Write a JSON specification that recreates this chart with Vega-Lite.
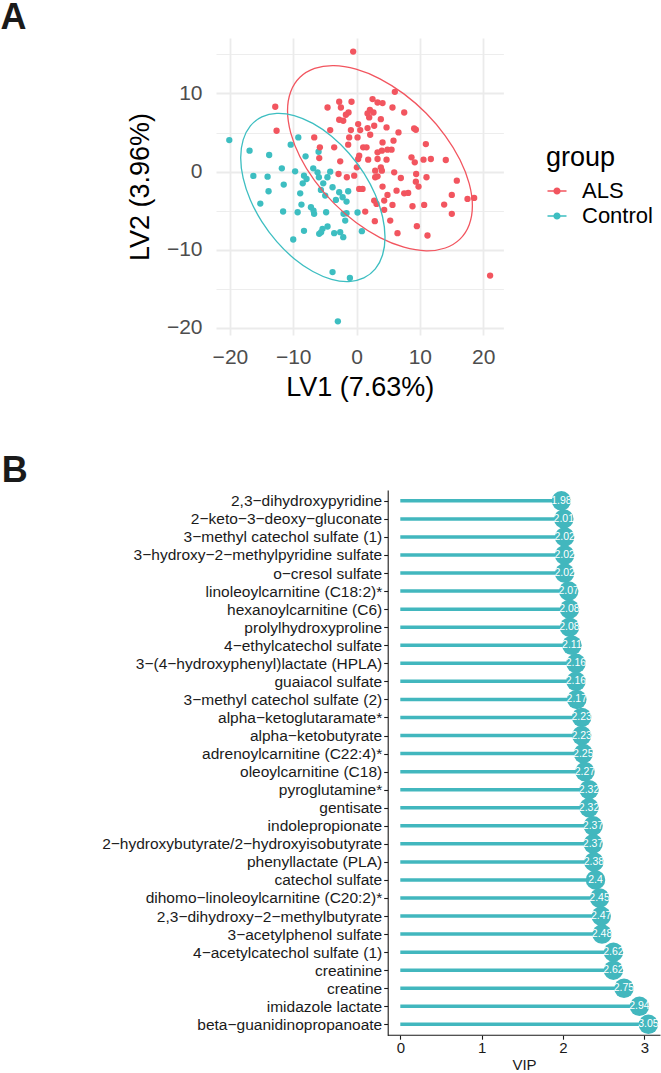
{
  "$schema": "https://vega.github.io/schema/vega-lite/v6.json",
  "background": "white",
  "padding": 0,
  "config": {"view": {"stroke": null}, "font": "Liberation Sans", "axis": {"titleFontWeight": "normal"}},
  "columns": 1,
  "align": "none",
  "spacing": 52,
  "resolve": {"scale": {"x": "independent", "y": "independent", "color": "independent"}, "legend": {"color": "independent"}, "axis": {"x": "independent", "y": "independent"}},
  "datasets": {
    "pts": [
      {"group": "Control", "LV1": -20.1, "LV2": 4.04},
      {"group": "Control", "LV1": -16.9, "LV2": 2.68},
      {"group": "Control", "LV1": -13.8, "LV2": 2.13},
      {"group": "Control", "LV1": -16.3, "LV2": -0.55},
      {"group": "Control", "LV1": -14.05, "LV2": -0.64},
      {"group": "Control", "LV1": -13.9, "LV2": -2.51},
      {"group": "Control", "LV1": -15.2, "LV2": -4.09},
      {"group": "Control", "LV1": -11.8, "LV2": 0.43},
      {"group": "Control", "LV1": -11.5, "LV2": -1.66},
      {"group": "Control", "LV1": -11.6, "LV2": -5.1},
      {"group": "Control", "LV1": -10.4, "LV2": 3.45},
      {"group": "Control", "LV1": -9.2, "LV2": 4.38},
      {"group": "Control", "LV1": -9.7, "LV2": 0.04},
      {"group": "Control", "LV1": -8.05, "LV2": 1.96},
      {"group": "Control", "LV1": -8.9, "LV2": -2.77},
      {"group": "Control", "LV1": -8.7, "LV2": -4.21},
      {"group": "Control", "LV1": -9.3, "LV2": -5.19},
      {"group": "Control", "LV1": -10.0, "LV2": -8.68},
      {"group": "Control", "LV1": -8.3, "LV2": -7.57},
      {"group": "Control", "LV1": -8.3, "LV2": -0.51},
      {"group": "Control", "LV1": -8.5, "LV2": -1.49},
      {"group": "Control", "LV1": -7.9, "LV2": -0.94},
      {"group": "Control", "LV1": -6.84, "LV2": 0.43},
      {"group": "Control", "LV1": -6.16, "LV2": -0.09},
      {"group": "Control", "LV1": -6.0, "LV2": 2.55},
      {"group": "Control", "LV1": -5.95, "LV2": -0.72},
      {"group": "Control", "LV1": -5.63, "LV2": -2.34},
      {"group": "Control", "LV1": -7.2, "LV2": -4.55},
      {"group": "Control", "LV1": -6.7, "LV2": -5.4},
      {"group": "Control", "LV1": -6.8, "LV2": -4.98},
      {"group": "Control", "LV1": -4.8, "LV2": -5.19},
      {"group": "Control", "LV1": -4.16, "LV2": 0.0},
      {"group": "Control", "LV1": -4.6, "LV2": -0.72},
      {"group": "Control", "LV1": -5.26, "LV2": -1.49},
      {"group": "Control", "LV1": -3.79, "LV2": -2.0},
      {"group": "Control", "LV1": -5.9, "LV2": -7.96},
      {"group": "Control", "LV1": -5.37, "LV2": -7.32},
      {"group": "Control", "LV1": -4.58, "LV2": -7.02},
      {"group": "Control", "LV1": -5.6, "LV2": -7.74},
      {"group": "Control", "LV1": -3.53, "LV2": -7.87},
      {"group": "Control", "LV1": -2.58, "LV2": -7.74},
      {"group": "Control", "LV1": -2.1, "LV2": -8.38},
      {"group": "Control", "LV1": -2.74, "LV2": -2.64},
      {"group": "Control", "LV1": -2.2, "LV2": -3.28},
      {"group": "Control", "LV1": -1.58, "LV2": -3.83},
      {"group": "Control", "LV1": -1.32, "LV2": -2.51},
      {"group": "Control", "LV1": -2.05, "LV2": -5.4},
      {"group": "Control", "LV1": -1.79, "LV2": -6.26},
      {"group": "Control", "LV1": -1.58, "LV2": -5.32},
      {"group": "Control", "LV1": 0.16, "LV2": -5.23},
      {"group": "Control", "LV1": 0.84, "LV2": -7.62},
      {"group": "Control", "LV1": -3.79, "LV2": -12.85},
      {"group": "Control", "LV1": -1.05, "LV2": -13.6},
      {"group": "Control", "LV1": -2.95, "LV2": -19.15},
      {"group": "Control", "LV1": -4.95, "LV2": -3.06},
      {"group": "Control", "LV1": -3.26, "LV2": -3.62},
      {"group": "ALS", "LV1": -0.53, "LV2": 15.36},
      {"group": "ALS", "LV1": -12.84, "LV2": 8.3},
      {"group": "ALS", "LV1": -12.63, "LV2": 5.23},
      {"group": "ALS", "LV1": 6.05, "LV2": 10.21},
      {"group": "ALS", "LV1": -4.58, "LV2": 8.21},
      {"group": "ALS", "LV1": -2.74, "LV2": 8.94},
      {"group": "ALS", "LV1": -2.47, "LV2": 8.21},
      {"group": "ALS", "LV1": -0.79, "LV2": 8.94},
      {"group": "ALS", "LV1": 2.53, "LV2": 9.28},
      {"group": "ALS", "LV1": 3.32, "LV2": 8.85},
      {"group": "ALS", "LV1": 4.11, "LV2": 8.77},
      {"group": "ALS", "LV1": 2.11, "LV2": 7.91},
      {"group": "ALS", "LV1": 2.68, "LV2": 7.57},
      {"group": "ALS", "LV1": 5.68, "LV2": 8.21},
      {"group": "ALS", "LV1": 7.53, "LV2": 7.57},
      {"group": "ALS", "LV1": -1.26, "LV2": 7.57},
      {"group": "ALS", "LV1": -1.68, "LV2": 7.28},
      {"group": "ALS", "LV1": -2.74, "LV2": 6.64},
      {"group": "ALS", "LV1": -2.1, "LV2": 6.51},
      {"group": "ALS", "LV1": 2.0, "LV2": 6.94},
      {"group": "ALS", "LV1": 3.84, "LV2": 6.72},
      {"group": "ALS", "LV1": 1.74, "LV2": 7.45},
      {"group": "ALS", "LV1": -4.16, "LV2": 5.32},
      {"group": "ALS", "LV1": -6.68, "LV2": 4.38},
      {"group": "ALS", "LV1": -0.89, "LV2": 5.32},
      {"group": "ALS", "LV1": 0.26, "LV2": 6.09},
      {"group": "ALS", "LV1": 0.58, "LV2": 5.32},
      {"group": "ALS", "LV1": 1.74, "LV2": 5.57},
      {"group": "ALS", "LV1": 2.79, "LV2": 5.87},
      {"group": "ALS", "LV1": 4.74, "LV2": 5.66},
      {"group": "ALS", "LV1": 6.63, "LV2": 5.02},
      {"group": "ALS", "LV1": 9.1, "LV2": 5.53},
      {"group": "ALS", "LV1": 9.37, "LV2": 5.36},
      {"group": "ALS", "LV1": -1.16, "LV2": 4.38},
      {"group": "ALS", "LV1": 0.16, "LV2": 4.38},
      {"group": "ALS", "LV1": 2.16, "LV2": 4.72},
      {"group": "ALS", "LV1": -1.32, "LV2": 3.45},
      {"group": "ALS", "LV1": -5.79, "LV2": 3.11},
      {"group": "ALS", "LV1": -3.53, "LV2": 3.11},
      {"group": "ALS", "LV1": 1.05, "LV2": 3.11},
      {"group": "ALS", "LV1": 1.58, "LV2": 3.11},
      {"group": "ALS", "LV1": 4.11, "LV2": 3.74},
      {"group": "ALS", "LV1": 5.84, "LV2": 3.96},
      {"group": "ALS", "LV1": 4.89, "LV2": 2.81},
      {"group": "ALS", "LV1": 4.0, "LV2": 2.68},
      {"group": "ALS", "LV1": 3.32, "LV2": 2.47},
      {"group": "ALS", "LV1": 10.95, "LV2": 3.53},
      {"group": "ALS", "LV1": -5.89, "LV2": 1.74},
      {"group": "ALS", "LV1": 0.42, "LV2": 2.04},
      {"group": "ALS", "LV1": 0.26, "LV2": 1.62},
      {"group": "ALS", "LV1": 1.84, "LV2": 1.53},
      {"group": "ALS", "LV1": 3.32, "LV2": 1.62},
      {"group": "ALS", "LV1": 4.74, "LV2": 1.53},
      {"group": "ALS", "LV1": 8.68, "LV2": 1.83},
      {"group": "ALS", "LV1": 10.58, "LV2": 1.53},
      {"group": "ALS", "LV1": 11.74, "LV2": 1.62},
      {"group": "ALS", "LV1": 14.1, "LV2": 1.49},
      {"group": "ALS", "LV1": -2.58, "LV2": 1.32},
      {"group": "ALS", "LV1": 0.05, "LV2": 0.55},
      {"group": "ALS", "LV1": 9.2, "LV2": 1.19},
      {"group": "ALS", "LV1": -2.84, "LV2": -0.3},
      {"group": "ALS", "LV1": -1.53, "LV2": -0.72},
      {"group": "ALS", "LV1": -0.37, "LV2": -0.51},
      {"group": "ALS", "LV1": 2.95, "LV2": 0.13},
      {"group": "ALS", "LV1": 3.32, "LV2": -0.6},
      {"group": "ALS", "LV1": 4.0, "LV2": 0.13},
      {"group": "ALS", "LV1": 2.95, "LV2": -0.72},
      {"group": "ALS", "LV1": 5.95, "LV2": -0.09},
      {"group": "ALS", "LV1": 7.0, "LV2": -0.81},
      {"group": "ALS", "LV1": 9.42, "LV2": -0.3},
      {"group": "ALS", "LV1": 9.37, "LV2": -1.28},
      {"group": "ALS", "LV1": 11.05, "LV2": -0.72},
      {"group": "ALS", "LV1": 9.79, "LV2": -1.91},
      {"group": "ALS", "LV1": 15.84, "LV2": -1.15},
      {"group": "ALS", "LV1": 0.42, "LV2": -2.21},
      {"group": "ALS", "LV1": 0.95, "LV2": -2.21},
      {"group": "ALS", "LV1": 4.11, "LV2": -1.91},
      {"group": "ALS", "LV1": 6.32, "LV2": -2.43},
      {"group": "ALS", "LV1": 7.53, "LV2": -2.77},
      {"group": "ALS", "LV1": 8.16, "LV2": -2.72},
      {"group": "ALS", "LV1": 4.89, "LV2": -2.98},
      {"group": "ALS", "LV1": 15.05, "LV2": -2.98},
      {"group": "ALS", "LV1": 17.53, "LV2": -3.49},
      {"group": "ALS", "LV1": 18.58, "LV2": -3.36},
      {"group": "ALS", "LV1": 2.79, "LV2": -3.7},
      {"group": "ALS", "LV1": 4.37, "LV2": -3.7},
      {"group": "ALS", "LV1": 3.16, "LV2": -4.13},
      {"group": "ALS", "LV1": 5.68, "LV2": -4.26},
      {"group": "ALS", "LV1": 8.84, "LV2": -4.43},
      {"group": "ALS", "LV1": 10.68, "LV2": -4.26},
      {"group": "ALS", "LV1": 13.84, "LV2": -4.21},
      {"group": "ALS", "LV1": 1.37, "LV2": -5.11},
      {"group": "ALS", "LV1": 4.37, "LV2": -4.89},
      {"group": "ALS", "LV1": 15.05, "LV2": -5.4},
      {"group": "ALS", "LV1": 2.89, "LV2": -6.34},
      {"group": "ALS", "LV1": 5.32, "LV2": -6.26},
      {"group": "ALS", "LV1": 9.53, "LV2": -6.98},
      {"group": "ALS", "LV1": 6.47, "LV2": -7.87},
      {"group": "ALS", "LV1": 11.21, "LV2": -8.17},
      {"group": "ALS", "LV1": 21.1, "LV2": -13.3},
      {"group": "ALS", "LV1": 5.53, "LV2": 2.81},
      {"group": "ALS", "LV1": 3.84, "LV2": 0.55}
    ],
    "ell": [
      {"group": "ALS", "i": 0, "LV1": 18.3, "LV2": -4.37},
      {"group": "ALS", "i": 1, "LV1": 17.8, "LV2": -1.53},
      {"group": "ALS", "i": 2, "LV1": 16.34, "LV2": 1.53},
      {"group": "ALS", "i": 3, "LV1": 14.02, "LV2": 4.59},
      {"group": "ALS", "i": 4, "LV1": 11.0, "LV2": 7.47},
      {"group": "ALS", "i": 5, "LV1": 7.48, "LV2": 9.95},
      {"group": "ALS", "i": 6, "LV1": 3.7, "LV2": 11.88},
      {"group": "ALS", "i": 7, "LV1": -0.08, "LV2": 13.11},
      {"group": "ALS", "i": 8, "LV1": -3.6, "LV2": 13.57},
      {"group": "ALS", "i": 9, "LV1": -6.62, "LV2": 13.21},
      {"group": "ALS", "i": 10, "LV1": -8.94, "LV2": 12.07},
      {"group": "ALS", "i": 11, "LV1": -10.4, "LV2": 10.23},
      {"group": "ALS", "i": 12, "LV1": -10.9, "LV2": 7.81},
      {"group": "ALS", "i": 13, "LV1": -10.4, "LV2": 4.97},
      {"group": "ALS", "i": 14, "LV1": -8.94, "LV2": 1.91},
      {"group": "ALS", "i": 15, "LV1": -6.62, "LV2": -1.15},
      {"group": "ALS", "i": 16, "LV1": -3.6, "LV2": -4.03},
      {"group": "ALS", "i": 17, "LV1": -0.08, "LV2": -6.51},
      {"group": "ALS", "i": 18, "LV1": 3.7, "LV2": -8.44},
      {"group": "ALS", "i": 19, "LV1": 7.48, "LV2": -9.67},
      {"group": "ALS", "i": 20, "LV1": 11.0, "LV2": -10.13},
      {"group": "ALS", "i": 21, "LV1": 14.02, "LV2": -9.77},
      {"group": "ALS", "i": 22, "LV1": 16.34, "LV2": -8.63},
      {"group": "ALS", "i": 23, "LV1": 17.8, "LV2": -6.79},
      {"group": "Control", "i": 0, "LV1": 4.5, "LV2": -8.39},
      {"group": "Control", "i": 1, "LV1": 4.11, "LV2": -5.77},
      {"group": "Control", "i": 2, "LV1": 2.97, "LV2": -2.97},
      {"group": "Control", "i": 3, "LV1": 1.16, "LV2": -0.2},
      {"group": "Control", "i": 4, "LV1": -1.2, "LV2": 2.36},
      {"group": "Control", "i": 5, "LV1": -3.95, "LV2": 4.54},
      {"group": "Control", "i": 6, "LV1": -6.9, "LV2": 6.18},
      {"group": "Control", "i": 7, "LV1": -9.85, "LV2": 7.18},
      {"group": "Control", "i": 8, "LV1": -12.6, "LV2": 7.46},
      {"group": "Control", "i": 9, "LV1": -14.96, "LV2": 7.0},
      {"group": "Control", "i": 10, "LV1": -16.77, "LV2": 5.85},
      {"group": "Control", "i": 11, "LV1": -17.91, "LV2": 4.07},
      {"group": "Control", "i": 12, "LV1": -18.3, "LV2": 1.79},
      {"group": "Control", "i": 13, "LV1": -17.91, "LV2": -0.83},
      {"group": "Control", "i": 14, "LV1": -16.77, "LV2": -3.63},
      {"group": "Control", "i": 15, "LV1": -14.96, "LV2": -6.4},
      {"group": "Control", "i": 16, "LV1": -12.6, "LV2": -8.96},
      {"group": "Control", "i": 17, "LV1": -9.85, "LV2": -11.14},
      {"group": "Control", "i": 18, "LV1": -6.9, "LV2": -12.78},
      {"group": "Control", "i": 19, "LV1": -3.95, "LV2": -13.78},
      {"group": "Control", "i": 20, "LV1": -1.2, "LV2": -14.06},
      {"group": "Control", "i": 21, "LV1": 1.16, "LV2": -13.6},
      {"group": "Control", "i": 22, "LV1": 2.97, "LV2": -12.45},
      {"group": "Control", "i": 23, "LV1": 4.11, "LV2": -10.67}
    ],
    "vip": [
      {"metabolite": "2,3−dihydroxypyridine", "VIP": 1.98},
      {"metabolite": "2−keto−3−deoxy−gluconate", "VIP": 2.01},
      {"metabolite": "3−methyl catechol sulfate (1)", "VIP": 2.02},
      {"metabolite": "3−hydroxy−2−methylpyridine sulfate", "VIP": 2.02},
      {"metabolite": "o−cresol sulfate", "VIP": 2.02},
      {"metabolite": "linoleoylcarnitine (C18:2)*", "VIP": 2.07},
      {"metabolite": "hexanoylcarnitine (C6)", "VIP": 2.08},
      {"metabolite": "prolylhydroxyproline", "VIP": 2.08},
      {"metabolite": "4−ethylcatechol sulfate", "VIP": 2.11},
      {"metabolite": "3−(4−hydroxyphenyl)lactate (HPLA)", "VIP": 2.16},
      {"metabolite": "guaiacol sulfate", "VIP": 2.16},
      {"metabolite": "3−methyl catechol sulfate (2)", "VIP": 2.17},
      {"metabolite": "alpha−ketoglutaramate*", "VIP": 2.23},
      {"metabolite": "alpha−ketobutyrate", "VIP": 2.23},
      {"metabolite": "adrenoylcarnitine (C22:4)*", "VIP": 2.25},
      {"metabolite": "oleoylcarnitine (C18)", "VIP": 2.27},
      {"metabolite": "pyroglutamine*", "VIP": 2.32},
      {"metabolite": "gentisate", "VIP": 2.32},
      {"metabolite": "indolepropionate", "VIP": 2.37},
      {"metabolite": "2−hydroxybutyrate/2−hydroxyisobutyrate", "VIP": 2.37},
      {"metabolite": "phenyllactate (PLA)", "VIP": 2.38},
      {"metabolite": "catechol sulfate", "VIP": 2.4},
      {"metabolite": "dihomo−linoleoylcarnitine (C20:2)*", "VIP": 2.45},
      {"metabolite": "2,3−dihydroxy−2−methylbutyrate", "VIP": 2.47},
      {"metabolite": "3−acetylphenol sulfate", "VIP": 2.48},
      {"metabolite": "4−acetylcatechol sulfate (1)", "VIP": 2.62},
      {"metabolite": "creatinine", "VIP": 2.62},
      {"metabolite": "creatine", "VIP": 2.75},
      {"metabolite": "imidazole lactate", "VIP": 2.94},
      {"metabolite": "beta−guanidinopropanoate", "VIP": 3.05}
    ]
  },
  "concat": [
    {
      "width": 287.4,
      "height": 297,
      "title": {"text": "A", "anchor": "start", "frame": "bounds", "fontSize": 36, "fontWeight": "bold", "color": "#1A1A1A", "baseline": "alphabetic", "offset": -27.4, "dx": -126},
      "layer": [
        {
          "data": {"name": "pts"},
          "mark": {"type": "point", "filled": true, "size": 40, "opacity": 1},
          "encoding": {
            "x": {"field": "LV1", "type": "quantitative",
              "scale": {"domain": [-22.2, 23.2], "nice": false, "zero": false},
              "axis": {"title": "LV1 (7.63%)", "values": [-20, -15, -10, -5, 0, 5, 10, 15, 20],
                "labelExpr": "datum.value % 10 === 0 ? datum.label : ''",
                "grid": true, "gridColor": "#EBEBEB",
                "gridWidth": {"condition": {"test": "datum.value % 10 === 0", "value": 1.8}, "value": 0.9},
                "domain": false, "ticks": false, "tickSize": 0, "labelOverlap": false, "labelFlush": false,
                "labelFontSize": 21, "labelColor": "#4D4D4D", "labelPadding": 11,
                "titleFontSize": 27, "titleColor": "#000000", "titlePadding": 7}},
            "y": {"field": "LV2", "type": "quantitative",
              "scale": {"domain": [-20.9, 17.1], "nice": false, "zero": false},
              "axis": {"title": "LV2 (3.96%)", "values": [-20, -15, -10, -5, 0, 5, 10, 15],
                "labelExpr": "datum.value % 10 === 0 ? datum.label : ''",
                "grid": true, "gridColor": "#EBEBEB",
                "gridWidth": {"condition": {"test": "datum.value % 10 === 0", "value": 1.8}, "value": 0.9},
                "domain": false, "ticks": false, "tickSize": 0, "labelOverlap": false, "labelFlush": false,
                "labelFontSize": 21, "labelColor": "#4D4D4D", "labelPadding": 14,
                "titleFontSize": 27, "titleColor": "#000000", "titlePadding": 12}},
            "color": {"field": "group", "type": "nominal",
              "scale": {"domain": ["ALS", "Control"], "range": ["#F2555F", "#3DBEC1"]},
              "legend": {"orient": "none", "legendX": 330, "legendY": 107, "title": "group",
                "titleFontSize": 27, "titleFontWeight": "normal", "titleColor": "#000000",
                "labelFontSize": 22, "labelColor": "#000000",
                "symbolType": "M-1,-0.07L1,-0.07L1,0.07L-1,0.07Z M0.38,0A0.38,0.38,0,1,1,-0.38,0A0.38,0.38,0,1,1,0.38,0Z",
                "symbolSize": 361, "symbolStrokeWidth": 0, "symbolOpacity": 1,
                "rowPadding": 3, "titlePadding": 8, "labelOffset": 14, "padding": 0}}
          }
        },
        {
          "data": {"name": "ell"},
          "mark": {"type": "line", "interpolate": "cardinal-closed", "strokeWidth": 1.3},
          "encoding": {
            "x": {"field": "LV1", "type": "quantitative"},
            "y": {"field": "LV2", "type": "quantitative"},
            "color": {"field": "group", "type": "nominal"},
            "order": {"field": "i", "type": "quantitative"}
          }
        }
      ]
    },
    {
      "width": 444.5,
      "height": 545.2,
      "title": {"text": "B", "anchor": "start", "frame": "bounds", "fontSize": 36, "fontWeight": "bold", "color": "#1A1A1A", "baseline": "alphabetic", "offset": -27.8, "dx": -100},
      "data": {"name": "vip"},
      "encoding": {
        "y": {"field": "metabolite", "type": "nominal", "sort": null,
          "scale": {"type": "point", "padding": 0.6},
          "axis": {"title": null, "offset": -171.7, "labelFontSize": 15.5, "labelColor": "#1A1A1A", "tickColor": "#1A1A1A",
            "domainColor": "#1A1A1A", "tickSize": 4, "tickWidth": 1.1, "domainWidth": 1.1,
            "labelPadding": 2, "labelLimit": 400, "grid": false}}
      },
      "layer": [
        {
          "mark": {"type": "rule", "strokeWidth": 3.5, "color": "#42B7BE"},
          "encoding": {
            "x": {"field": "VIP", "type": "quantitative",
              "scale": {"domain": [-2.266, 3.199], "nice": false, "zero": false},
              "axis": {"title": "VIP", "titleX": 308, "values": [0, 1, 2, 3], "format": "d", "labelFontSize": 15, "titleFontSize": 15,
                "labelColor": "#1A1A1A", "titleColor": "#1A1A1A", "tickColor": "#1A1A1A", "domain": false,
                "tickSize": 4, "tickWidth": 1.1, "labelPadding": 1, "titlePadding": 2,
                "grid": false, "labelFlush": false}},
            "x2": {"datum": 0}
          }
        },
        {
          "mark": {"type": "circle", "size": 380, "opacity": 1, "color": "#42B7BE"},
          "encoding": {"x": {"field": "VIP", "type": "quantitative"}}
        },
        {
          "mark": {"type": "text", "color": "white", "fontSize": 10.5},
          "encoding": {
            "x": {"field": "VIP", "type": "quantitative"},
            "text": {"field": "VIP", "type": "quantitative"}
          }
        },
        {
          "data": {"values": [{}]},
          "mark": {"type": "rule", "color": "#1A1A1A", "strokeWidth": 1.1},
          "encoding": {
            "x": {"datum": -0.1525, "type": "quantitative"},
            "x2": {"datum": 3.199},
            "y": {"value": "height"}
          }
        }
      ]
    }
  ]
}
